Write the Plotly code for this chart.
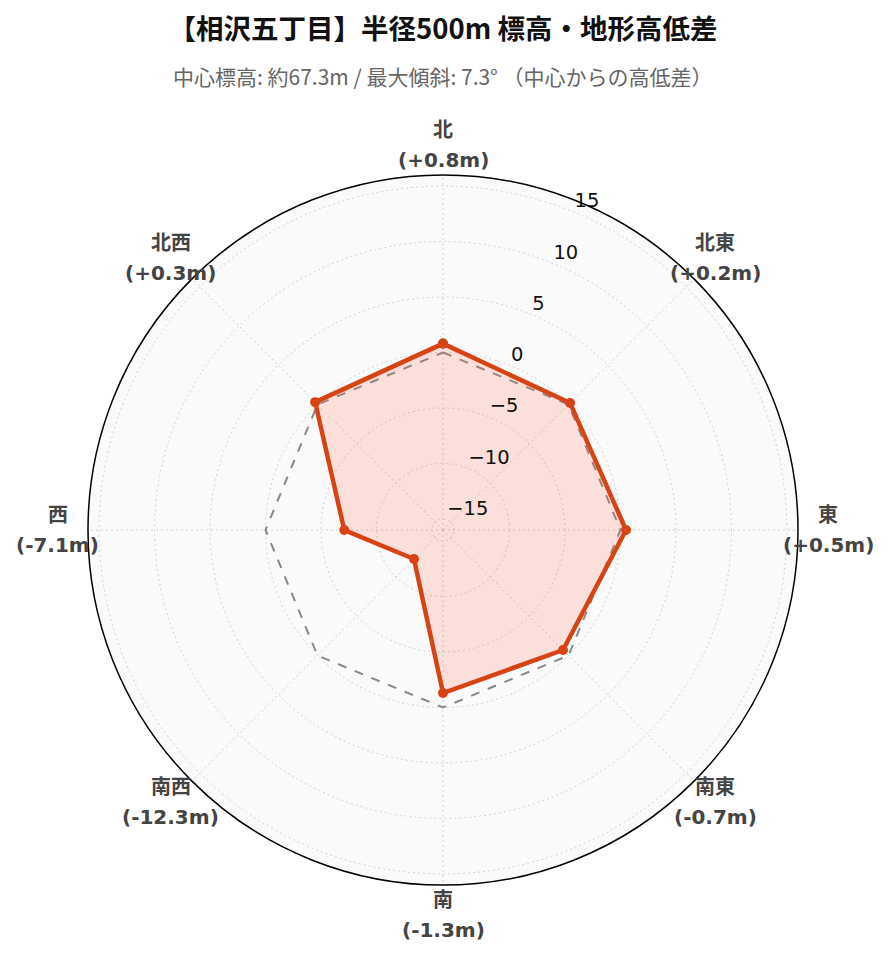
import math
import plotly.graph_objects as go

directions = ["北", "北東", "東", "南東", "南", "南西", "西", "北西"]
diffs = [0.8, 0.2, 0.5, -0.7, -1.3, -12.3, -7.1, 0.3]
baseline = [0, 0, 0, 0, 0, 0, 0, 0]
radial_ticks = [-15, -10, -5, 0, 5, 10, 15]

title_text = "【相沢五丁目】半径500m 標高・地形高低差"
subtitle_text = "中心標高: 約67.3m / 最大傾斜: 7.3° （中心からの高低差）"

angles = [i * 360 / len(directions) for i in range(len(directions))]
value_texts = [f"({v:+.1f}m)" for v in diffs]
r_max = 16
r_range = [-r_max, r_max]
tick_theta = angles[1] / 2

# plot-area geometry (pixels)
ML, MR, MT, MB = 80, 99, 140, 58
W, H = 889, 962
PW, PH = W - ML - MR, H - MT - MB
LABEL_RADIUS_PX = 385
LINE_HALF_GAP_PX = 15

fig = go.Figure()
fig.add_trace(go.Scatterpolar(
    r=baseline + [baseline[0]], theta=angles + [angles[0]],
    mode="lines", line=dict(color="#888888", width=2, dash="dash"),
    hoverinfo="skip", showlegend=False,
))
fig.add_trace(go.Scatterpolar(
    r=diffs + [diffs[0]], theta=angles + [angles[0]],
    mode="lines+markers", fill="toself",
    fillcolor="rgba(255,99,71,0.18)",
    line=dict(color="#D84315", width=4.5),
    marker=dict(size=10, color="#D84315"),
    showlegend=False,
))
# radial tick labels
fig.add_trace(go.Scatterpolar(
    r=radial_ticks, theta=[tick_theta] * len(radial_ticks), mode="text",
    text=[str(t).replace("-", "\u2212") for t in radial_ticks],
    textposition="top right", cliponaxis=False,
    textfont=dict(size=19.5, color="#111111", family="DejaVu Sans"),
    hoverinfo="skip", showlegend=False,
))

annotations = [dict(
    text=subtitle_text, showarrow=False,
    xref="paper", yref="paper", x=0.5, y=1 + (MT - 68) / PH,
    xanchor="center", yanchor="middle",
    font=dict(family="Noto Sans CJK JP", size=21, color="#666666"),
)]
label_font = dict(family="DejaVu Sans, Noto Sans CJK JP", size=20, color="#444444")
for ang, name, val in zip(angles, directions, value_texts):
    rad = math.radians(ang)
    x = 0.5 + LABEL_RADIUS_PX * math.sin(rad) / PW
    y = 0.5 + LABEL_RADIUS_PX * math.cos(rad) / PH
    annotations.append(dict(
        text=f"<b>{name}</b>", showarrow=False,
        xref="paper", yref="paper", x=x, y=y + LINE_HALF_GAP_PX / PH,
        xanchor="center", yanchor="middle", font=label_font,
    ))
    annotations.append(dict(
        text=f"<b>{val}</b>", showarrow=False,
        xref="paper", yref="paper", x=x, y=y - LINE_HALF_GAP_PX / PH,
        xanchor="center", yanchor="middle", font=label_font,
    ))

fig.update_layout(
    width=W, height=H,
    paper_bgcolor="white",
    font=dict(family="DejaVu Sans, Noto Sans CJK JP, sans-serif", color="#333333"),
    title=dict(
        text=f"<b>{title_text}</b>",
        x=(ML + PW / 2) / W,
        xanchor="center", yref="container", y=1 - 21 / H, yanchor="middle",
        font=dict(family="Noto Sans CJK JP", size=27.5, color="#111111"),
    ),
    annotations=annotations,
    margin=dict(l=ML, r=MR, t=MT, b=MB),
    polar=dict(
        bgcolor="#fafafa",
        angularaxis=dict(
            type="linear", direction="clockwise", rotation=90,
            tickmode="array", tickvals=angles, showticklabels=False,
            showline=True, linecolor="black", linewidth=1.5,
            gridcolor="#cfcfcf", griddash="2px,3px", gridwidth=1,
            ticks="",
        ),
        radialaxis=dict(
            range=r_range, angle=67.5,
            showline=False, ticks="", showticklabels=False,
            gridcolor="#cfcfcf", griddash="2px,3px", gridwidth=1,
            tickvals=radial_ticks,
        ),
    ),
)

fig.write_html("out.html")
